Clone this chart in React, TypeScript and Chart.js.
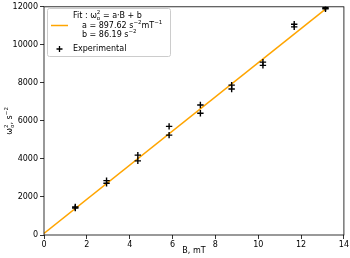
import React, { useEffect, useRef } from "react";
import { Chart, registerables } from "chart.js";

Chart.register(...registerables);

const B_mT = [1.46, 1.46, 2.92, 2.92, 4.38, 4.38, 5.84, 5.84, 7.3, 7.3, 8.76, 8.76, 10.22, 10.22, 11.68, 11.68, 13.14, 13.14];
const omega2 = [1470, 1420, 2860, 2720, 4200, 3900, 5710, 5250, 6840, 6400, 7880, 7675, 9090, 8920, 11080, 10945, 11950, 11900];
const fitA = 897.62;
const fitB = 86.19;
const fitRange = [0, 13.14];
const xTicks = [0, 2, 4, 6, 8, 10, 12, 14];
const yTicks = [0, 2000, 4000, 6000, 8000, 10000, 12000];

const FONT = "DejaVu Sans";

type Seg = { t: string; dy?: number; size?: number; back?: boolean };

function segWidth(ctx: CanvasRenderingContext2D, segs: Seg[]) {
  let cx = 0;
  let lastW = 0;
  for (const s of segs) {
    ctx.font = `${s.size ?? 8}px "${FONT}"`;
    const w = ctx.measureText(s.t).width;
    if (s.back) {
      cx = Math.max(cx, cx - lastW + w);
    } else {
      cx += w;
      lastW = w;
    }
  }
  return cx;
}

function drawSegs(ctx: CanvasRenderingContext2D, x: number, y: number, segs: Seg[]) {
  let cx = x;
  let lastW = 0;
  for (const s of segs) {
    const size = s.size ?? 8;
    ctx.font = `${size}px "${FONT}"`;
    const w = ctx.measureText(s.t).width;
    let px = cx;
    if (s.back) px = cx - lastW;
    ctx.fillText(s.t, px, y + (s.dy ?? 0));
    if (s.back) {
      cx = Math.max(cx, px + w);
    } else {
      cx = px + w;
      lastW = w;
    }
  }
}

const framePlugin = {
  id: "frameAndLegend",
  afterDraw(chart: any) {
    const { ctx, chartArea } = chart;
    ctx.save();
    ctx.strokeStyle = "#000";
    ctx.lineWidth = 0.8;
    ctx.strokeRect(chartArea.left, chartArea.top, chartArea.right - chartArea.left, chartArea.bottom - chartArea.top);

    // y axis title (rotated, with stacked sub/superscript)
    const ySegs: Seg[] = [
      { t: "ω" },
      { t: "2", dy: -3, size: 5.5 },
      { t: "o", dy: 2.5, size: 5.5, back: true },
      { t: ", s" },
      { t: "−2", dy: -3, size: 5.5 },
    ];
    ctx.fillStyle = "#000";
    ctx.textBaseline = "middle";
    ctx.textAlign = "left";
    const tw = segWidth(ctx, ySegs);
    ctx.save();
    ctx.translate(10, (chartArea.top + chartArea.bottom) / 2);
    ctx.rotate(-Math.PI / 2);
    drawSegs(ctx, -tw / 2, 0, ySegs);
    ctx.restore();

    // legend box
    const bx = 47.5, by = 8.5, bw = 123, bh = 48;
    ctx.fillStyle = "rgba(255,255,255,0.8)";
    ctx.strokeStyle = "#cccccc";
    ctx.lineWidth = 1;
    ctx.beginPath();
    const r = 2;
    ctx.moveTo(bx + r, by);
    ctx.lineTo(bx + bw - r, by);
    ctx.quadraticCurveTo(bx + bw, by, bx + bw, by + r);
    ctx.lineTo(bx + bw, by + bh - r);
    ctx.quadraticCurveTo(bx + bw, by + bh, bx + bw - r, by + bh);
    ctx.lineTo(bx + r, by + bh);
    ctx.quadraticCurveTo(bx, by + bh, bx, by + bh - r);
    ctx.lineTo(bx, by + r);
    ctx.quadraticCurveTo(bx, by, bx + r, by);
    ctx.closePath();
    ctx.fill();
    ctx.stroke();

    // orange line sample
    ctx.strokeStyle = "#FFA500";
    ctx.lineWidth = 1.5;
    ctx.beginPath();
    ctx.moveTo(51, 25.5);
    ctx.lineTo(68, 25.5);
    ctx.stroke();

    // plus marker sample
    ctx.strokeStyle = "#000";
    ctx.lineWidth = 1.3;
    ctx.beginPath();
    ctx.moveTo(56.5, 49);
    ctx.lineTo(62.5, 49);
    ctx.moveTo(59.5, 46);
    ctx.lineTo(59.5, 52);
    ctx.stroke();

    ctx.fillStyle = "#000";
    ctx.textBaseline = "middle";
    ctx.textAlign = "left";
    drawSegs(ctx, 73, 16, [
      { t: "Fit : ω" },
      { t: "2", dy: -3, size: 5.5 },
      { t: "o", dy: 2.5, size: 5.5, back: true },
      { t: " = a·B + b" },
    ]);
    drawSegs(ctx, 82, 26, [
      { t: "a = 897.62 s" },
      { t: "−2", dy: -3, size: 5.5 },
      { t: "mT" },
      { t: "−1", dy: -3, size: 5.5 },
    ]);
    drawSegs(ctx, 82, 35, [
      { t: "b = 86.19 s" },
      { t: "−2", dy: -3, size: 5.5 },
    ]);
    drawSegs(ctx, 73, 49, [{ t: "Experimental" }]);
    ctx.restore();
  },
};

export default function App() {
  const ref = useRef<HTMLCanvasElement>(null);
  useEffect(() => {
    document.body.style.margin = "0";
    const fitData = fitRange.map((x) => ({ x, y: fitA * x + fitB }));
    const pts = B_mT.map((x, i) => ({ x, y: omega2[i] }));
    const chart = new Chart(ref.current!, {
      type: "scatter",
      data: {
        datasets: [
          {
            type: "line",
            label: "Fit",
            data: fitData,
            borderColor: "#FFA500",
            borderWidth: 1.5,
            pointRadius: 0,
            fill: false,
            order: 2,
          } as any,
          {
            label: "Experimental",
            data: pts,
            pointStyle: "cross",
            pointRadius: 3.2,
            borderColor: "#000",
            backgroundColor: "#000",
            pointBorderWidth: 1.4,
            order: 1,
          } as any,
        ],
      },
      options: {
        animation: false,
        responsive: false,
        devicePixelRatio: 1,
        layout: { padding: { top: 4, right: 5, left: 0, bottom: 0 } },
        plugins: { legend: { display: false }, tooltip: { enabled: false } },
        scales: {
          x: {
            type: "linear",
            min: 0,
            max: 14,
            afterBuildTicks: (s: any) => {
              s.ticks = xTicks.map((v) => ({ value: v }));
            },
            afterFit: (s: any) => {
              s.height = 23;
            },
            ticks: { color: "#000", font: { family: FONT, size: 8 }, padding: 1, maxRotation: 0, callback: (v: any) => String(v) },
            grid: { drawOnChartArea: false, drawTicks: true, tickLength: 4, color: "#000", lineWidth: 0.8 },
            border: { display: false },
            title: { display: true, text: "B, mT", color: "#000", font: { family: FONT, size: 8 }, padding: { top: 0, bottom: 2 } },
          },
          y: {
            type: "linear",
            min: 0,
            max: 12000,
            afterBuildTicks: (s: any) => {
              s.ticks = yTicks.map((v) => ({ value: v }));
            },
            afterFit: (s: any) => {
              s.width = 44;
            },
            ticks: { color: "#000", font: { family: FONT, size: 8 }, padding: 2, callback: (v: any) => String(v) },
            grid: { drawOnChartArea: false, drawTicks: true, tickLength: 4, color: "#000", lineWidth: 0.8 },
            border: { display: false },
            title: { display: false },
          },
        },
      },
      plugins: [framePlugin],
    } as any);
    return () => chart.destroy();
  }, []);
  return <canvas ref={ref} width={350} height={258} style={{ display: "block" }} />;
}
